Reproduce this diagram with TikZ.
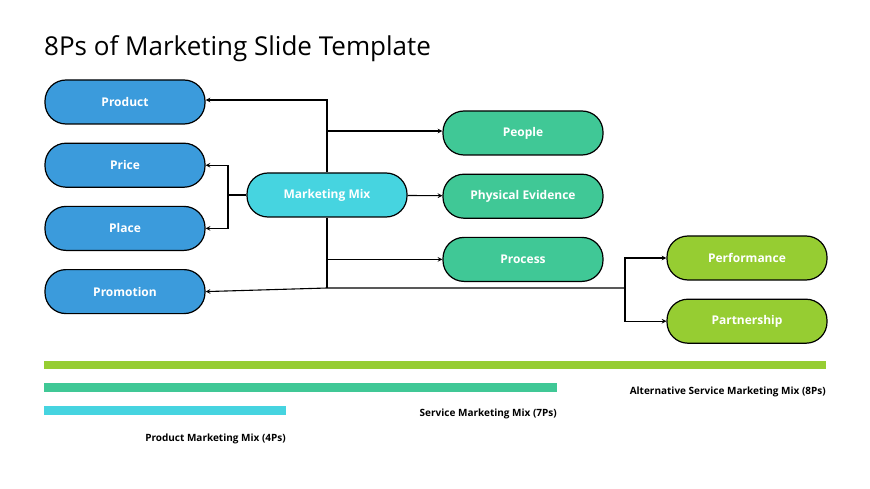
\documentclass[tikz,border=0pt]{standalone}
\usepackage{fontspec}
\setmainfont{Open Sans}
\definecolor{pblue}{RGB}{59,155,220}
\definecolor{pcyan}{RGB}{70,212,224}
\definecolor{pteal}{RGB}{64,200,150}
\definecolor{plime}{RGB}{150,205,50}
\usetikzlibrary{arrows,positioning,calc}

\begin{document}
\begin{tikzpicture}[x=1pt,y=-1pt,node distance=18pt,
    pill/.style={rectangle, draw=black, line width=1.2pt, rounded corners=21pt,
        minimum width=160pt, minimum height=44pt, text=white,
        font=\fontsize{12}{14}\selectfont\bfseries},
    link/.style={->, >=stealth, line width=1.1pt},
    barlabel/.style={anchor=north east, inner sep=0pt, font=\fontsize{10}{12}\selectfont\bfseries}]
    \useasboundingbox (0,0) rectangle (870,489);
    % Title
    \node[anchor=base west, inner sep=0pt, font=\fontsize{26}{30}\selectfont] (title) at (44,56) {8Ps of Marketing Slide Template};

    % The 4Ps
    \node[pill, fill=pblue] (product) at (125,102) {Product};
    \node[pill, fill=pblue, below=of product] (price) {Price};
    \node[pill, fill=pblue, below=of price] (place) {Place};
    \node[pill, fill=pblue, below=of place] (promo) {Promotion};

    % Centre
    \node[pill, fill=pcyan] (mix) at (327,195) {Marketing Mix};

    % The service Ps
    \node[pill, fill=pteal] (people) at (523,133) {People};
    \node[pill, fill=pteal, below=of people] (evidence) {Physical Evidence};
    \node[pill, fill=pteal, below=of evidence] (process) {Process};

    % The alternative Ps
    \node[pill, fill=plime] (perf) at (747,258) {Performance};
    \node[pill, fill=plime, below=of perf] (partner) {Partnership};

    % Branch points
    \coordinate (top) at (327,100);
    \coordinate (bot) at (327,288);
    \coordinate (fork) at (625,288);
    \coordinate (left) at (228,195);

    % Arrows
    \draw[link] (mix.north) -- (top) -- (top -| product.east);
    \draw[line width=1.1pt] (mix.south) -- (bot);
    \draw[link] (327,131) -- (327,131 -| people.west);
    \draw[link] (mix) -- (evidence);
    \draw[link] (327,257 |- process.west) -- (process.west);
    \draw[link] (fork) -- (bot) -- (promo.east);
    \draw[link] (fork) |- (perf.west);
    \draw[link] (fork) |- (partner.west);
    \draw[line width=1.1pt] (mix.west) -- (left);
    \draw[link] (left) |- (price.east);
    \draw[link] (left) |- (place.east);

    % Bars
    \fill[plime] (44,361) rectangle (826,369);
    \fill[pteal] (44,383) rectangle (557,392);
    \fill[pcyan] (44,406) rectangle (286,415);
    \node[barlabel] (alt) at (826,387) {Alternative Service Marketing Mix (8Ps)};
    \node[barlabel] (serv) at (557,409) {Service Marketing Mix (7Ps)};
    \node[barlabel] (prod) at (286,434) {Product Marketing Mix (4Ps)};
\end{tikzpicture}
\end{document}
